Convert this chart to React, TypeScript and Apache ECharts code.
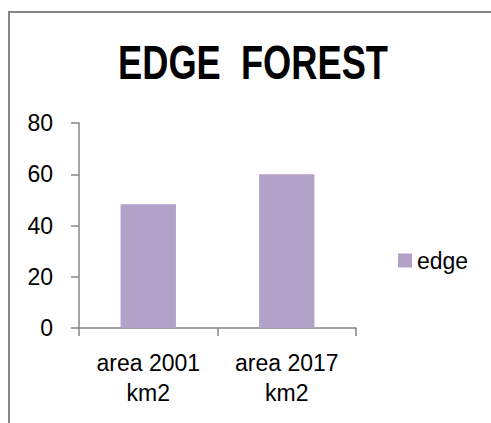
import React, { useEffect, useRef } from "react";
import * as echarts from "echarts";

const categories = ["area 2001\nkm2", "area 2017\nkm2"];
const seriesName = "edge";
const edgeValues = [48.3, 60];
const titleText = "EDGE  FOREST";

export default function App() {
  const ref = useRef<HTMLDivElement>(null);
  useEffect(() => {
    if (!ref.current) return;
    const chart = echarts.init(ref.current, undefined, { renderer: "svg" });
    const font = "'Liberation Sans', Arial, sans-serif";
    chart.setOption({
      animation: false,
      backgroundColor: "#ffffff",
      textStyle: { fontFamily: font },
      graphic: [
        {
          type: "rect",
          shape: { x: 9, y: 12, width: 700, height: 700 },
          style: { fill: "none", stroke: "#868686", lineWidth: 2 },
          silent: true,
        },
        {
          type: "text",
          x: 253,
          y: 62,
          scaleX: 0.74,
          style: {
            text: titleText,
            fontFamily: font,
            fontWeight: "bold",
            fontSize: 49,
            fill: "#000000",
            textAlign: "center",
            textVerticalAlign: "middle",
          },
        },
      ],
      legend: {
        data: [seriesName],
        left: 398,
        top: 249,
        itemWidth: 14,
        itemHeight: 14,
        itemGap: 6,
        icon: "rect",
        textStyle: { fontSize: 23, color: "#000000", fontFamily: font, padding: [0, 0, 0, 0] },
        padding: 0,
      },
      grid: { left: 79, right: 135, top: 123, bottom: 95, containLabel: false },
      xAxis: {
        type: "category",
        data: categories,
        axisLine: { lineStyle: { color: "#868686", width: 1.5 } },
        axisTick: { show: true, length: 8, lineStyle: { color: "#868686", width: 1.5 } },
        axisLabel: {
          fontSize: 23,
          color: "#000000",
          fontFamily: font,
          lineHeight: 30,
          margin: 20,
        },
      },
      yAxis: {
        type: "value",
        min: 0,
        max: 80,
        interval: 20,
        splitLine: { show: false },
        axisLine: { show: true, lineStyle: { color: "#868686", width: 1.5 } },
        axisTick: { show: true, length: 8, lineStyle: { color: "#868686", width: 1.5 } },
        axisLabel: { fontSize: 23, color: "#000000", fontFamily: font, margin: 26 },
      },
      series: [
        {
          name: seriesName,
          type: "bar",
          data: edgeValues,
          barWidth: "40%",
          itemStyle: { color: "#B3A2C7" },
        },
      ],
    });
    return () => chart.dispose();
  }, []);
  return (
    <div
      ref={ref}
      style={{ position: "absolute", left: 0, top: 0, width: 491, height: 423 }}
    />
  );
}
